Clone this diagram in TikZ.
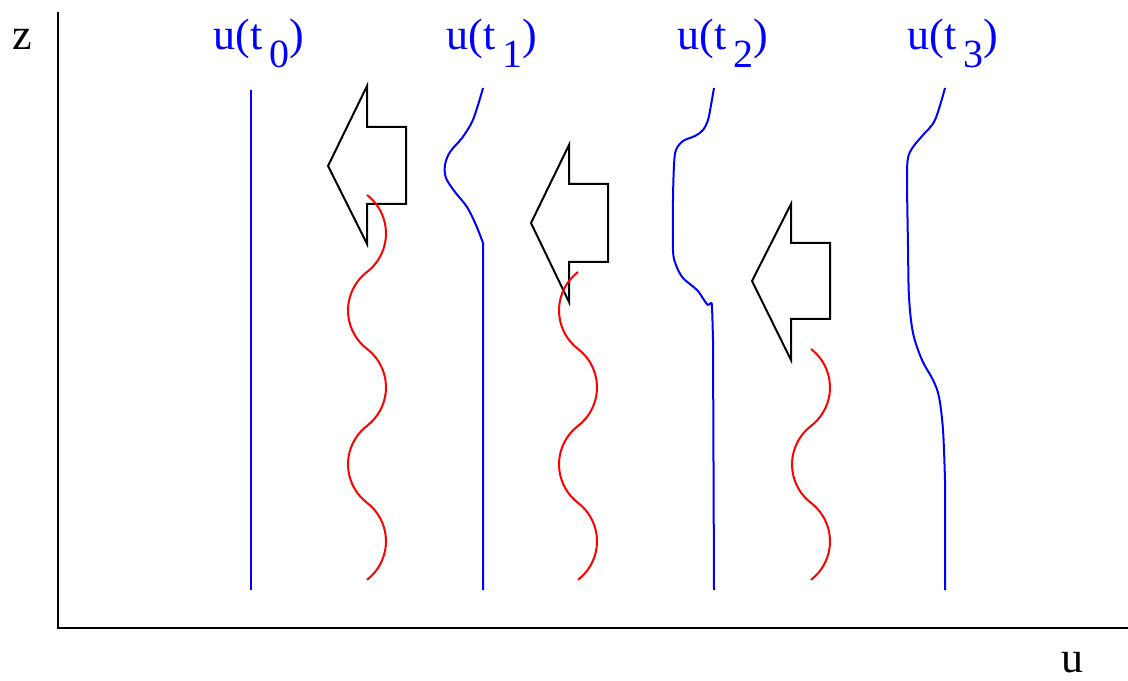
\documentclass[tikz,border=0pt]{standalone}
\usepackage{fontspec}
\setmainfont{Liberation Serif}
\newcommand{\ulabel}[1]{u(t\,\raisebox{-9pt}{\fontsize{20}{24}\selectfont #1})}
\begin{document}
\begin{tikzpicture}[x=0.5pt,y=0.5pt,
  lab/.style={inner sep=0pt, font=\fontsize{22}{26}\selectfont},
  ulab/.style={lab, text=blue, anchor=base west},
  prof/.style={blue, line width=1pt, line join=round},
  wave/.style={red, line width=1pt},
  shock/.style={black, line width=1pt, line join=miter},
  axis/.style={black, line width=1.1pt}]
\useasboundingbox (0,0) rectangle (1128,680);

% axes
\coordinate (top) at (58,668);
\coordinate (orig) at (58,52);
\coordinate (right) at (1128,52);
\draw[axis] (top) -- (orig) -- (right);
\node[lab, anchor=base west] (zlab) at (12,630) {z};
\node[lab, anchor=base] (ulabx) at (1072,8) {u};

% labels
\node[ulab] (l0) at (213,630) {\ulabel{0}};
\node[ulab] (l1) at (446,630) {\ulabel{1}};
\node[ulab] (l2) at (677,630) {\ulabel{2}};
\node[ulab] (l3) at (907,630) {\ulabel{3}};

% profiles
\draw[prof] (251,590) -- (251,90);
\draw[prof] plot[smooth, tension=0.55] coordinates {(483,592) (478,575) (472,558) (462,542) (450,528) (445,515) (446,502) (455,488) (467,473) (476,455) (483,437)} -- (483,90);
\draw[prof] plot[smooth, tension=0.55] coordinates {(714,592) (711,575) (708,560) (703,550) (695,544) (683,539) (676,530) (674,515) (673,480) (673,430) (676,415) (683,402) (697,390) (704,380) (708,375) (711,377) (712,373) (713,340)} -- (714,90);
\draw[prof] plot[smooth, tension=0.55] coordinates {(945,592) (935,560) (923,545) (913,533) (908,522) (907,500) (908,433) (909,383) (913,347) (922,320) (933,300) (939,283) (943,250) (945,200)} -- (945,90);

% shock arrows
\draw[shock] (328,514) -- (367,594) -- (367,553) -- (406,553) -- (406,476) -- (367,476) -- (367,436) -- cycle;
\draw[shock] (531,457) -- (569,535) -- (569,496) -- (608,496) -- (608,418) -- (569,418) -- (569,378) -- cycle;
\draw[shock] (752,399) -- (791,476) -- (791,437) -- (830,437) -- (830,361) -- (791,361) -- (791,320) -- cycle;

% waves
\draw[wave] (367,485)
  arc[start angle=52.5,end angle=-52.5,radius=48.5]
  arc[start angle=127.5,end angle=232.5,radius=48.5]
  arc[start angle=52.5,end angle=-52.5,radius=48.5]
  arc[start angle=127.5,end angle=232.5,radius=48.5]
  arc[start angle=52.5,end angle=-52.5,radius=48.5];
\draw[wave] (578,408)
  arc[start angle=127.5,end angle=232.5,radius=48.5]
  arc[start angle=52.5,end angle=-52.5,radius=48.5]
  arc[start angle=127.5,end angle=232.5,radius=48.5]
  arc[start angle=52.5,end angle=-52.5,radius=48.5];
\draw[wave] (811,331)
  arc[start angle=52.5,end angle=-52.5,radius=48.5]
  arc[start angle=127.5,end angle=232.5,radius=48.5]
  arc[start angle=52.5,end angle=-52.5,radius=48.5];
\end{tikzpicture}
\end{document}
